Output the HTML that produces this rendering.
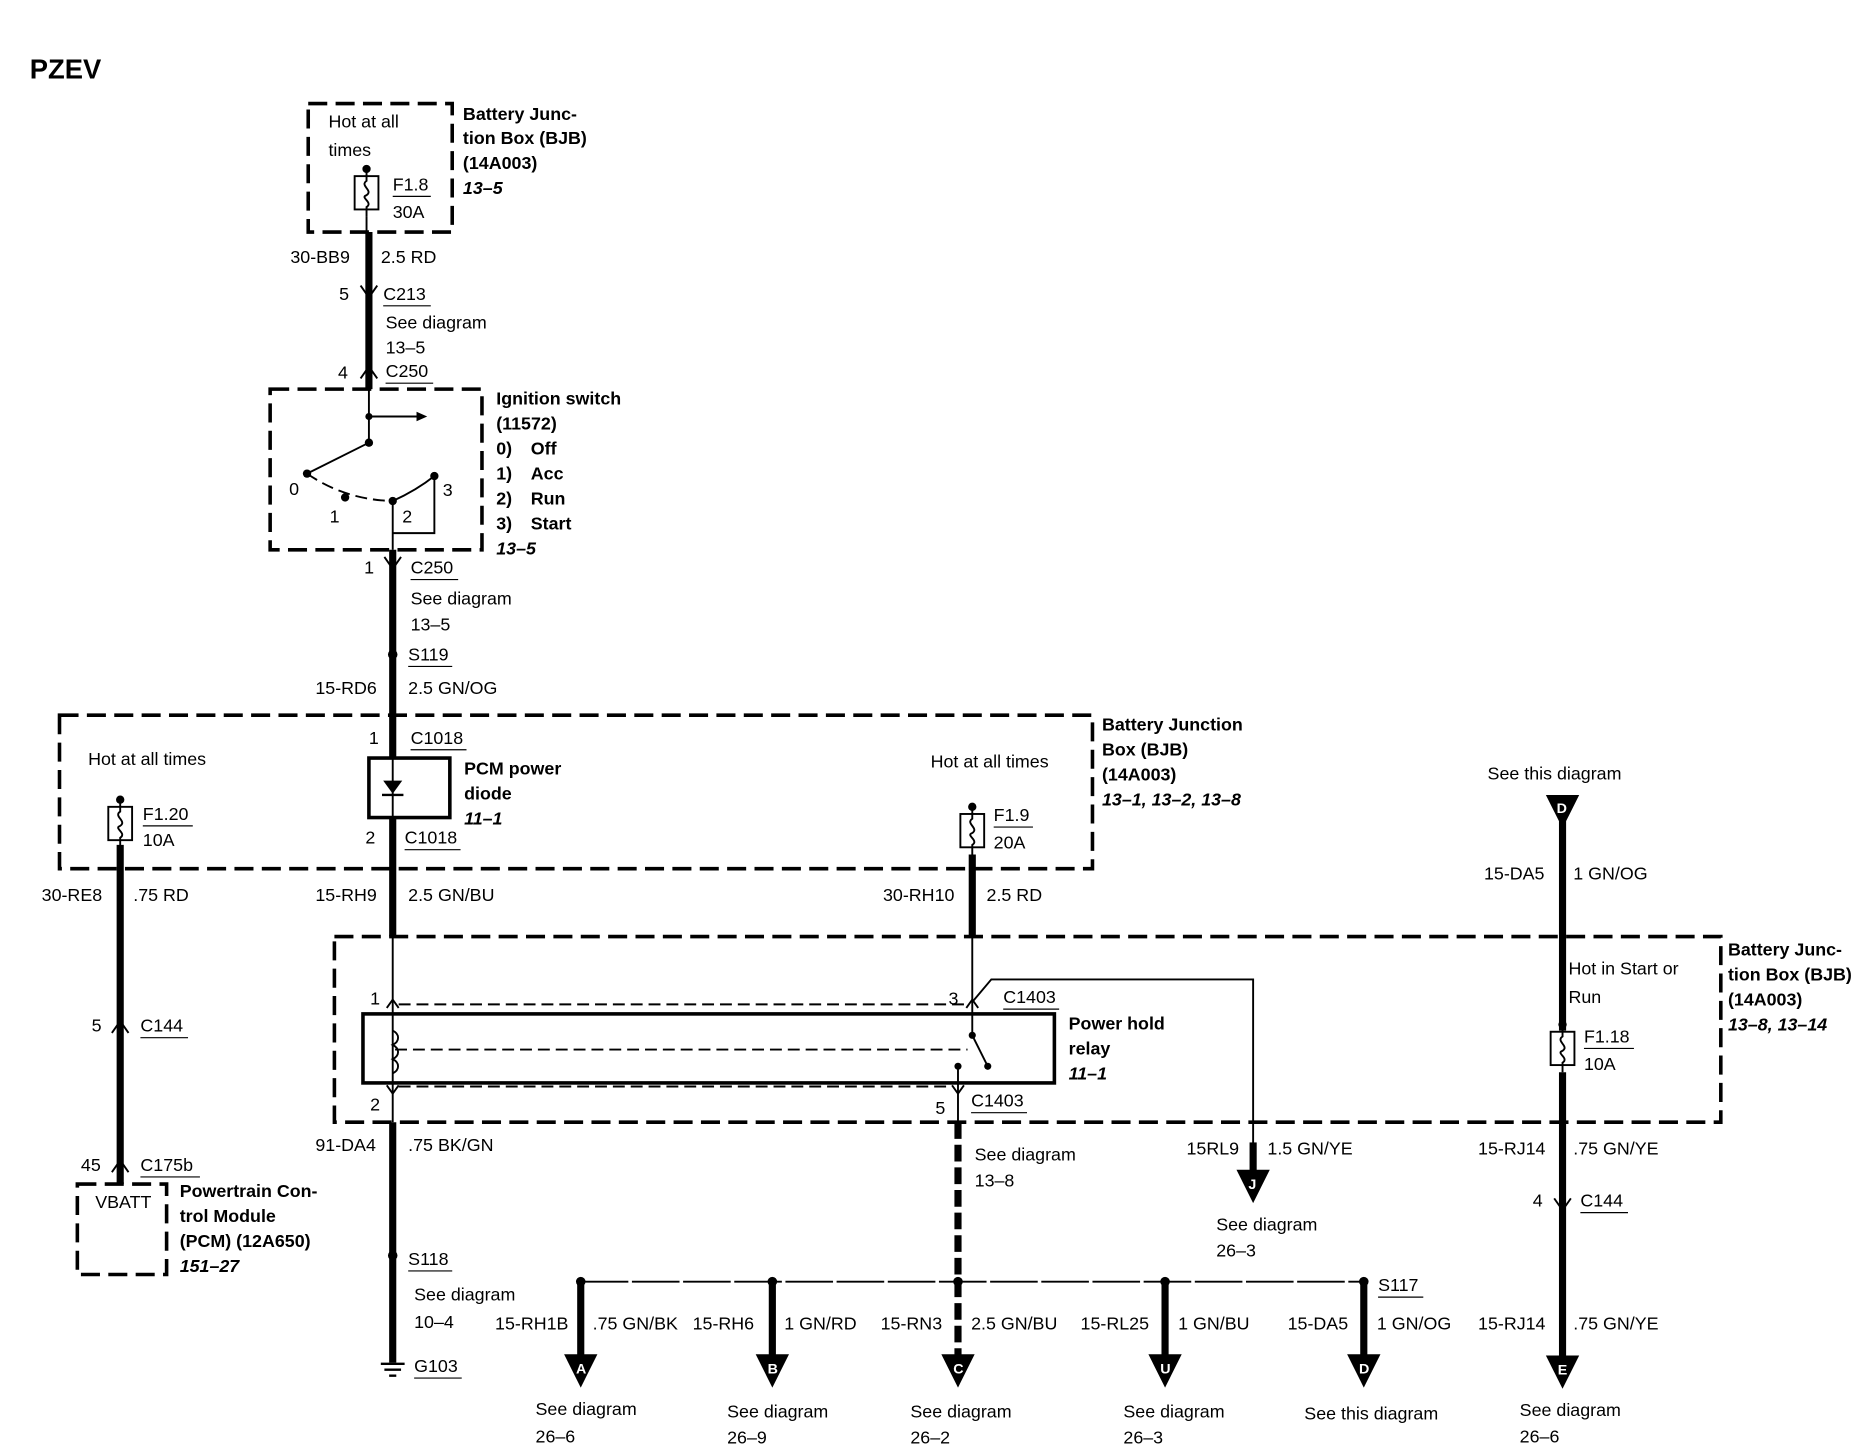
<!DOCTYPE html>
<html><head><meta charset="utf-8">
<style>
html,body{margin:0;padding:0;background:#fff;}
svg{display:block;}
text{font-family:"Liberation Sans",Arial,sans-serif;font-size:15px;fill:#000;}
.b{font-weight:bold;}
.i{font-weight:bold;font-style:italic;}
.box{fill:none;stroke:#000;stroke-width:3;stroke-dasharray:16,7;}
.w{stroke:#000;stroke-width:6;fill:none;}
.t{stroke:#000;stroke-width:1.6;fill:none;}
.dt{stroke:#000;stroke-width:1.6;fill:none;stroke-dasharray:10,5;}
.u{stroke:#000;stroke-width:1;}
.tri text{fill:#fff;font-size:12px;font-weight:bold;}
</style></head><body>
<svg width="1866" height="1456" viewBox="0 0 1568 1223.5" xmlns="http://www.w3.org/2000/svg" preserveAspectRatio="none">
<defs>
<g id="fuse"><rect x="-10" y="0" width="20" height="28" fill="#fff" stroke="#000" stroke-width="1.6"/><path d="M0,-6 V4 C-6,8 6,12 0,16 C-6,18 6,22 0,26 V34" fill="none" stroke="#000" stroke-width="1.6"/><circle cx="0" cy="-6" r="3.5"/></g>
<path id="tri" d="M-14,0 H14 L0,28 Z"/>
</defs>

<text x="25" y="66" class="b" style="font-size:23px">PZEV</text>

<!-- Box 1 -->
<rect x="259" y="87" width="121" height="108" class="box"/>
<text x="276" y="107">Hot at all</text><text x="276" y="131">times</text>
<use href="#fuse" x="308" y="148"/>
<text x="330" y="160">F1.8</text><line x1="330" y1="165" x2="362" y2="165" class="u"/><text x="330" y="183">30A</text>
<text x="389" y="101" class="b">Battery Junc-</text><text x="389" y="121" class="b">tion Box (BJB)</text><text x="389" y="142" class="b">(14A003)</text><text x="389" y="163" class="i">13–5</text>
<line x1="308" y1="182" x2="308" y2="195" class="t"/>
<line x1="310" y1="195" x2="310" y2="327" class="w"/>
<text x="244" y="221">30-BB9</text><text x="320" y="221">2.5 RD</text>
<path d="M303,240 L310,250 L317,240" class="t" stroke-width="2.5"/>
<text x="285" y="252">5</text><text x="322" y="252">C213</text><line x1="322" y1="257" x2="362" y2="257" class="u"/>
<text x="324" y="276">See diagram</text><text x="324" y="297">13–5</text>
<path d="M303,318 L310,308 L317,318" class="t" stroke-width="2.5"/>
<text x="284" y="318">4</text><text x="324" y="317">C250</text><line x1="324" y1="322" x2="364" y2="322" class="u"/>

<!-- Ignition switch -->
<rect x="227" y="327" width="178" height="135" class="box"/>
<line x1="310" y1="327" x2="310" y2="372" class="t"/>
<line x1="310" y1="350" x2="352" y2="350" class="t"/><path d="M350,346 L359,350 L350,354 Z"/>
<circle cx="310" cy="350" r="3"/>
<line x1="310" y1="372" x2="258" y2="398" class="t"/><circle cx="310" cy="372" r="3.5"/>
<circle cx="258" cy="398" r="3.5"/><circle cx="290" cy="418" r="3.5"/><circle cx="330" cy="421" r="3.5"/><circle cx="365" cy="400" r="3.5"/>
<path d="M258,398 Q290,420 330,421" class="dt"/>
<path d="M330,421 Q350,412 365,400 V448 H330" class="t"/>
<text x="243" y="416">0</text><text x="277" y="439">1</text><text x="338" y="439">2</text><text x="372" y="417">3</text>
<text x="417" y="340" class="b">Ignition switch</text><text x="417" y="361" class="b">(11572)</text>
<text x="417" y="382" class="b">0)</text><text x="446" y="382" class="b">Off</text>
<text x="417" y="403" class="b">1)</text><text x="446" y="403" class="b">Acc</text>
<text x="417" y="424" class="b">2)</text><text x="446" y="424" class="b">Run</text>
<text x="417" y="445" class="b">3)</text><text x="446" y="445" class="b">Start</text>
<text x="417" y="466" class="i">13–5</text>
<line x1="330" y1="421" x2="330" y2="462" class="t"/>

<!-- main vertical wire -->
<line x1="330" y1="462" x2="330" y2="637" class="w"/>
<path d="M323,468 L330,478 L337,468" class="t" stroke-width="2.5"/>
<text x="306" y="482">1</text><text x="345" y="482">C250</text><line x1="345" y1="487" x2="385" y2="487" class="u"/>
<text x="345" y="508">See diagram</text><text x="345" y="530">13–5</text>
<circle cx="330" cy="550" r="4"/><text x="343" y="555">S119</text><line x1="343" y1="560" x2="380" y2="560" class="u"/>
<text x="265" y="583">15-RD6</text><text x="343" y="583">2.5 GN/OG</text>

<!-- Box 3 -->
<rect x="50" y="601" width="868" height="129" class="box"/>
<text x="74" y="643">Hot at all times</text>
<use href="#fuse" x="101" y="678"/>
<text x="120" y="689">F1.20</text><line x1="120" y1="694" x2="162" y2="694" class="u"/><text x="120" y="711">10A</text>
<text x="310" y="625">1</text><text x="345" y="625">C1018</text><line x1="345" y1="630" x2="392" y2="630" class="u"/>
<rect x="310" y="637" width="68" height="50" fill="none" stroke="#000" stroke-width="3"/>
<line x1="330" y1="637" x2="330" y2="687" class="t"/>
<path d="M322,656 H338 L330,667 Z"/><line x1="321" y1="668" x2="339" y2="668" stroke="#000" stroke-width="2"/>
<text x="390" y="651" class="b">PCM power</text><text x="390" y="672" class="b">diode</text><text x="390" y="693" class="i">11–1</text>
<text x="307" y="709">2</text><text x="340" y="709">C1018</text><line x1="340" y1="714" x2="387" y2="714" class="u"/>
<text x="782" y="645">Hot at all times</text>
<use href="#fuse" x="817" y="684"/>
<text x="835" y="690">F1.9</text><line x1="835" y1="695" x2="868" y2="695" class="u"/><text x="835" y="713">20A</text>
<text x="926" y="614" class="b">Battery Junction</text><text x="926" y="635" class="b">Box (BJB)</text><text x="926" y="656" class="b">(14A003)</text><text x="926" y="677" class="i">13–1, 13–2, 13–8</text>

<line x1="330" y1="687" x2="330" y2="787" class="w"/>
<line x1="101" y1="710" x2="101" y2="995" class="w"/>
<line x1="817" y1="718" x2="817" y2="787" class="w"/>
<text x="35" y="757">30-RE8</text><text x="112" y="757">.75 RD</text>
<text x="265" y="757">15-RH9</text><text x="343" y="757">2.5 GN/BU</text>
<text x="742" y="757">30-RH10</text><text x="829" y="757">2.5 RD</text>
<path d="M94,868 L101,858 L108,868" class="t" stroke-width="2.5"/>
<text x="77" y="867">5</text><text x="118" y="867">C144</text><line x1="118" y1="872" x2="158" y2="872" class="u"/>
<path d="M94,985 L101,975 L108,985" class="t" stroke-width="2.5"/>
<text x="68" y="984">45</text><text x="118" y="984">C175b</text><line x1="118" y1="989" x2="168" y2="989" class="u"/>
<rect x="65" y="995" width="75" height="76" class="box"/>
<text x="80" y="1015">VBATT</text>
<text x="151" y="1006" class="b">Powertrain Con-</text><text x="151" y="1027" class="b">trol Module</text><text x="151" y="1048" class="b">(PCM) (12A650)</text><text x="151" y="1069" class="i">151–27</text>

<!-- Box 4 relay -->
<rect x="281" y="787" width="1165" height="156" class="box"/>
<rect x="305" y="852" width="581" height="58" fill="none" stroke="#000" stroke-width="3"/>
<line x1="330" y1="787" x2="330" y2="943" class="t"/>
<line x1="817" y1="787" x2="817" y2="870" class="t"/>
<line x1="335" y1="844" x2="812" y2="844" class="dt"/>
<line x1="335" y1="913" x2="800" y2="913" class="dt"/>
<path d="M330,866 c6,3 6,9 0,12 c6,3 6,9 0,12 c6,3 6,9 0,12" class="t"/>
<line x1="332" y1="882" x2="813" y2="882" class="dt"/>
<line x1="817" y1="870" x2="830" y2="896" class="t"/><circle cx="817" cy="870" r="3"/><circle cx="830" cy="896" r="3"/>
<path d="M325,847 L330,840 L335,847" class="t" stroke-width="2"/>
<path d="M325,912 L330,919 L335,912" class="t" stroke-width="2"/>
<path d="M812,847 L817,840 L822,847" class="t" stroke-width="2"/>
<line x1="805" y1="896" x2="805" y2="943" class="t"/><circle cx="805" cy="896" r="3"/>
<path d="M800,912 L805,919 L810,912" class="t" stroke-width="2"/>
<text x="311" y="844">1</text><text x="797" y="844">3</text><text x="843" y="843">C1403</text><line x1="843" y1="848" x2="890" y2="848" class="u"/>
<text x="898" y="865" class="b">Power hold</text><text x="898" y="886" class="b">relay</text><text x="898" y="907" class="i">11–1</text>
<text x="311" y="933">2</text><text x="786" y="936">5</text><text x="816" y="930">C1403</text><line x1="816" y1="935" x2="863" y2="935" class="u"/>
<path d="M817,842 L833,823 H1053 V985" class="t"/>

<line x1="330" y1="943" x2="330" y2="1145" class="w"/>
<text x="265" y="967">91-DA4</text><text x="343" y="967">.75 BK/GN</text>
<circle cx="330" cy="1055" r="4"/><text x="343" y="1063">S118</text><line x1="343" y1="1068" x2="380" y2="1068" class="u"/>
<text x="348" y="1093">See diagram</text><text x="348" y="1116">10–4</text>
<line x1="320" y1="1146" x2="340" y2="1146" stroke="#000" stroke-width="2"/><line x1="323" y1="1151" x2="337" y2="1151" stroke="#000" stroke-width="2"/><line x1="327" y1="1156" x2="333" y2="1156" stroke="#000" stroke-width="2"/>
<text x="348" y="1153">G103</text><line x1="348" y1="1158" x2="388" y2="1158" class="u"/>

<line x1="805" y1="943" x2="805" y2="1140" class="w" stroke-dasharray="14,5"/>
<text x="819" y="975">See diagram</text><text x="819" y="997">13–8</text>

<line x1="1053" y1="960" x2="1053" y2="985" class="w"/>
<g class="tri" transform="translate(1053,983)"><use href="#tri"/><text x="-4" y="16">J</text></g>
<text x="997" y="970">15RL9</text><text x="1065" y="970">1.5 GN/YE</text>
<text x="1022" y="1034">See diagram</text><text x="1022" y="1056">26–3</text>

<!-- right branch -->
<text x="1250" y="655">See this diagram</text>
<g class="tri" transform="translate(1313,668)"><use href="#tri"/><text x="-5" y="15">D</text></g>
<line x1="1313" y1="690" x2="1313" y2="866" class="w"/>
<text x="1247" y="739">15-DA5</text><text x="1322" y="739">1 GN/OG</text>
<text x="1318" y="819">Hot in Start or</text><text x="1318" y="843">Run</text>
<use href="#fuse" x="1313" y="867"/>
<text x="1331" y="876">F1.18</text><line x1="1331" y1="881" x2="1373" y2="881" class="u"/><text x="1331" y="899">10A</text>
<text x="1452" y="803" class="b">Battery Junc-</text><text x="1452" y="824" class="b">tion Box (BJB)</text><text x="1452" y="845" class="b">(14A003)</text><text x="1452" y="866" class="i">13–8, 13–14</text>
<line x1="1313" y1="901" x2="1313" y2="1142" class="w"/>
<text x="1242" y="970">15-RJ14</text><text x="1322" y="970">.75 GN/YE</text>
<path d="M1306,1007 L1313,1017 L1320,1007" class="t" stroke-width="2.5"/>
<text x="1288" y="1014">4</text><text x="1328" y="1014">C144</text><line x1="1328" y1="1019" x2="1368" y2="1019" class="u"/>
<text x="1242" y="1117">15-RJ14</text><text x="1322" y="1117">.75 GN/YE</text>
<g class="tri" transform="translate(1313,1139)"><use href="#tri"/><text x="-4" y="16">E</text></g>
<text x="1277" y="1190">See diagram</text><text x="1277" y="1212">26–6</text>

<!-- bus -->
<line x1="488" y1="1077" x2="1146" y2="1077" class="t" stroke-dasharray="40,3"/>
<g>
<circle cx="488" cy="1077" r="4"/><line x1="488" y1="1077" x2="488" y2="1140" class="w"/>
<g class="tri" transform="translate(488,1138)"><use href="#tri"/><text x="-4" y="16">A</text></g>
<circle cx="649" cy="1077" r="4"/><line x1="649" y1="1077" x2="649" y2="1140" class="w"/>
<g class="tri" transform="translate(649,1138)"><use href="#tri"/><text x="-4" y="16">B</text></g>
<circle cx="805" cy="1077" r="4"/>
<g class="tri" transform="translate(805,1138)"><use href="#tri"/><text x="-4" y="16">C</text></g>
<circle cx="979" cy="1077" r="4"/><line x1="979" y1="1077" x2="979" y2="1140" class="w"/>
<g class="tri" transform="translate(979,1138)"><use href="#tri"/><text x="-4" y="16">U</text></g>
<circle cx="1146" cy="1077" r="4"/><line x1="1146" y1="1077" x2="1146" y2="1140" class="w"/>
<g class="tri" transform="translate(1146,1138)"><use href="#tri"/><text x="-4" y="16">D</text></g>
</g>
<text x="1158" y="1085">S117</text><line x1="1158" y1="1090" x2="1196" y2="1090" class="u"/>
<text x="416" y="1117">15-RH1B</text><text x="498" y="1117">.75 GN/BK</text>
<text x="582" y="1117">15-RH6</text><text x="659" y="1117">1 GN/RD</text>
<text x="740" y="1117">15-RN3</text><text x="816" y="1117">2.5 GN/BU</text>
<text x="908" y="1117">15-RL25</text><text x="990" y="1117">1 GN/BU</text>
<text x="1082" y="1117">15-DA5</text><text x="1157" y="1117">1 GN/OG</text>

<text x="450" y="1189">See diagram</text><text x="450" y="1212">26–6</text>
<text x="611" y="1191">See diagram</text><text x="611" y="1213">26–9</text>
<text x="765" y="1191">See diagram</text><text x="765" y="1213">26–2</text>
<text x="944" y="1191">See diagram</text><text x="944" y="1213">26–3</text>
<text x="1096" y="1193">See this diagram</text>
</svg>
</body></html>
